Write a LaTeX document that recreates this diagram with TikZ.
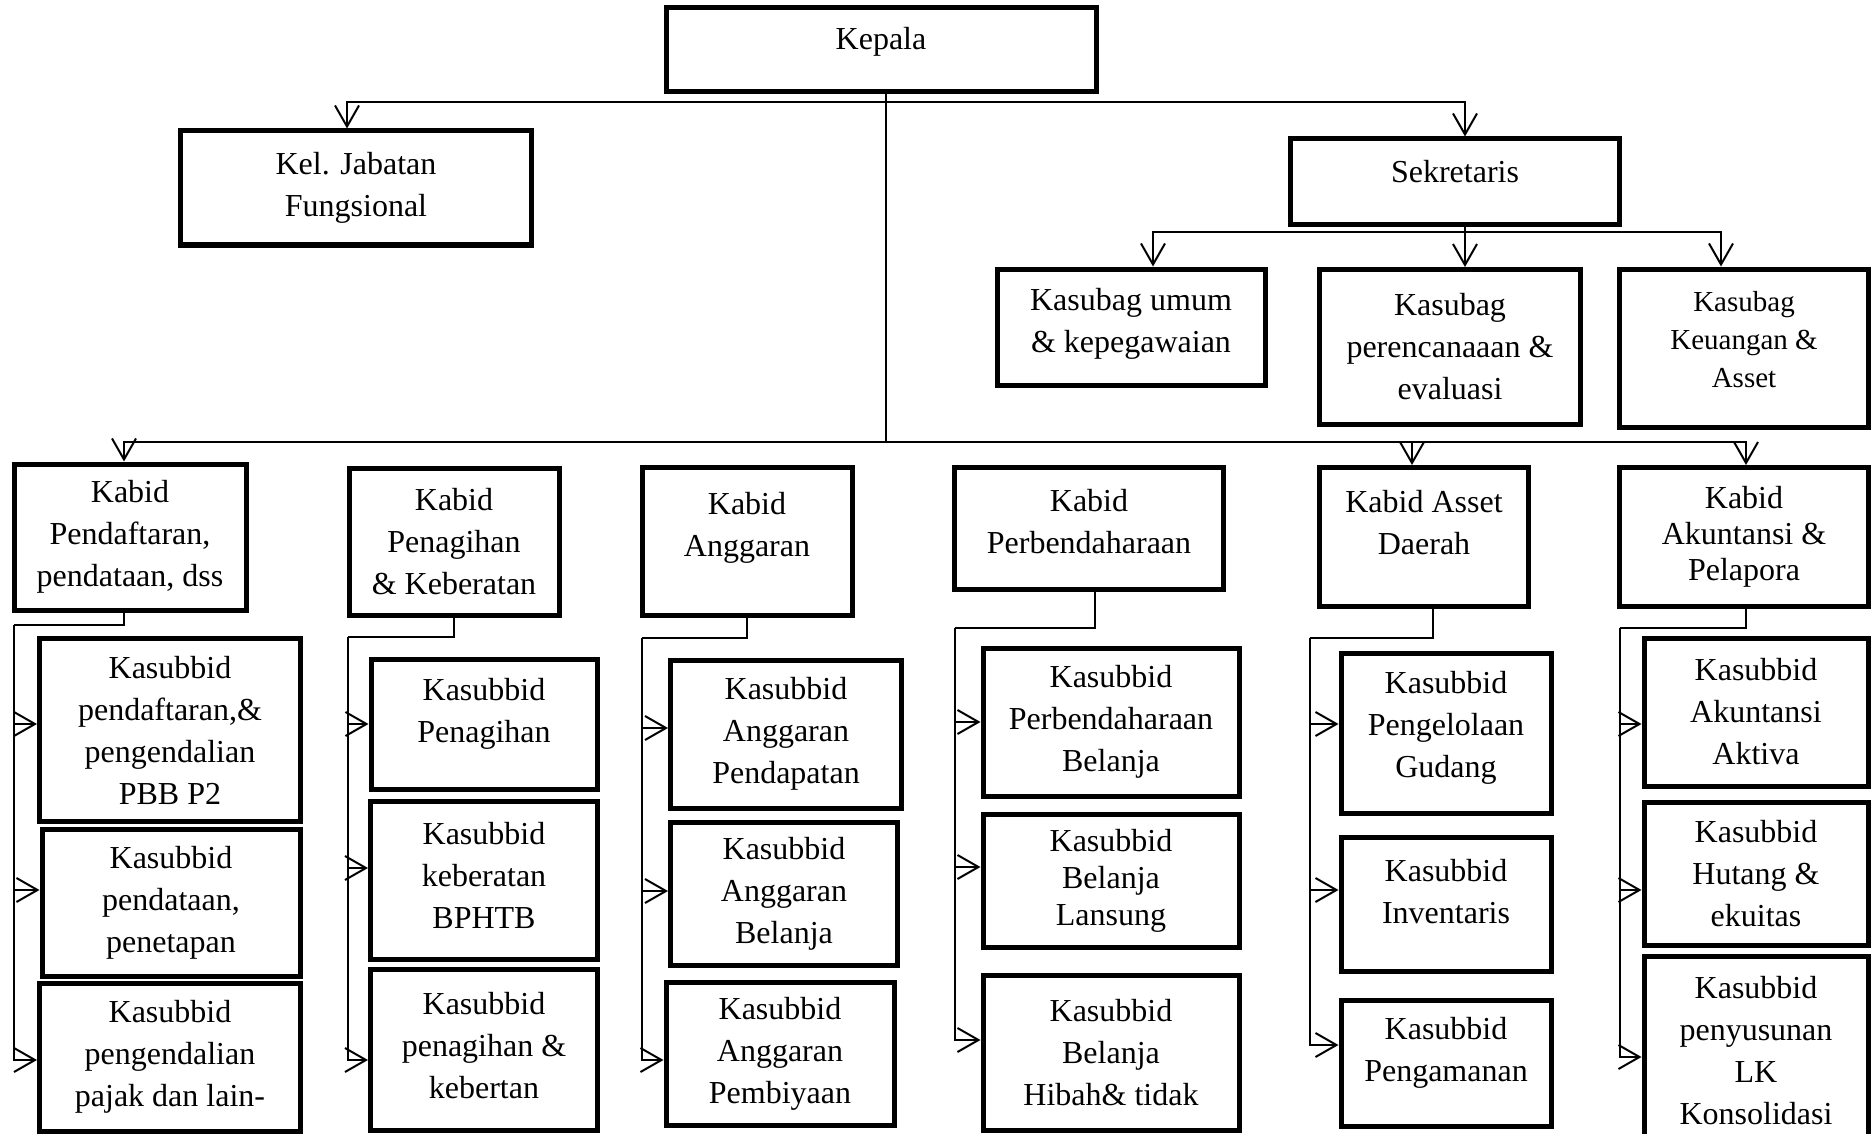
\documentclass[tikz,border=0pt]{standalone}
\usepackage{fontspec}
\setmainfont{Liberation Serif}
\usetikzlibrary{arrows.meta,positioning}

\begin{document}
\begin{tikzpicture}[
  x=1pt, y=-1pt,
  box/.style={draw, line width=5pt, inner sep=0pt, align=center, font=\fontsize{32}{42}\selectfont},
  dims/.style 2 args={minimum width=#1pt, minimum height=#2pt},
  lift/.style={text depth=#1},
  link/.style={line width=2pt},
  arr/.style={-{Straight Barb[length=21pt,width=24pt]}, line width=2pt}
]
  \useasboundingbox (0,0) rectangle (1874,1134);

  % top level
  \node[box, dims={430}{84}, lift=24pt] (kepala) at (881,50) {Kepala};
  \node[box, dims={351}{114}] (kel) at (356,188) {Kel. Jabatan\\Fungsional};
  \node[box, dims={329}{86}, lift=22pt] (sek) at (1455,182) {Sekretaris};

  % sekretariat
  \node[box, dims={268}{116}, lift=14pt] (umum) at (1131,327) {Kasubag umum\\\& kepegawaian};
  \node[box, dims={261}{155}] (renc) at (1450,347) {Kasubag\\perencanaaan \&\\evaluasi};
  \node[box, dims={249}{158}, lift=17pt, font=\fontsize{29}{38}\selectfont] (keu) at (1744,348) {Kasubag\\Keuangan \&\\Asset};

  % bidang
  \node[box, dims={232}{146}] (kb1) at (130,537) {Kabid\\Pendaftaran,\\pendataan, dss};
  \node[box, dims={210}{147}] (kb2) at (454,542) {Kabid\\Penagihan\\\& Keberatan};
  \node[box, dims={210}{148}, lift=34pt] (kb3) at (747,541) {Kabid\\Anggaran};
  \node[box, dims={269}{122}, lift=13pt] (kb4) at (1089,528) {Kabid\\Perbendaharaan};
  \node[box, dims={209}{139}, lift=30pt] (kb5) at (1424,537) {Kabid Asset\\Daerah};
  \node[box, dims={249}{139}, font=\fontsize{32}{36}\selectfont] (kb6) at (1744,537) {Kabid\\Akuntansi \&\\Pelapora};

  % sub bidang
  \node[box, dims={261}{183}] (s1a) at (170,730) {Kasubbid\\pendaftaran,\&\\pengendalian\\PBB P2};
  \node[box, dims={258}{147}] (s1b) at (171,903) {Kasubbid\\pendataan,\\penetapan};
  \node[box, dims={261}{148}] (s1c) at (170,1057) {Kasubbid\\pengendalian\\pajak dan lain-};

  \node[box, dims={226}{130}, lift=27pt] (s2a) at (484,724) {Kasubbid\\Penagihan};
  \node[box, dims={227}{158}, lift=10pt] (s2b) at (484,880) {Kasubbid\\keberatan\\BPHTB};
  \node[box, dims={227}{161}, lift=10pt] (s2c) at (484,1050) {Kasubbid\\penagihan \&\\kebertan};

  \node[box, dims={231}{148}] (s3a) at (786,734) {Kasubbid\\Anggaran\\Pendapatan};
  \node[box, dims={227}{143}] (s3b) at (784,894) {Kasubbid\\Anggaran\\Belanja};
  \node[box, dims={228}{143}] (s3c) at (780,1054) {Kasubbid\\Anggaran\\Pembiyaan};

  \node[box, dims={256}{148}] (s4a) at (1111,722) {Kasubbid\\Perbendaharaan\\Belanja};
  \node[box, dims={256}{133}, font=\fontsize{32}{37}\selectfont] (s4b) at (1111,881) {Kasubbid\\Belanja\\Lansung};
  \node[box, dims={256}{155}] (s4c) at (1111,1053) {Kasubbid\\Belanja\\Hibah\& tidak};

  \node[box, dims={210}{160}, lift=17pt] (s5a) at (1446,733) {Kasubbid\\Pengelolaan\\Gudang};
  \node[box, dims={210}{134}, lift=25pt] (s5b) at (1446,904) {Kasubbid\\Inventaris};
  \node[box, dims={210}{126}, lift=27pt] (s5c) at (1446,1063) {Kasubbid\\Pengamanan};

  \node[box, dims={224}{148}] (s6a) at (1756,712) {Kasubbid\\Akuntansi\\Aktiva};
  \node[box, dims={224}{143}] (s6b) at (1756,874) {Kasubbid\\Hutang \&\\ekuitas};
  \node[box, dims={224}{190}] (s6c) at (1756,1051) {Kasubbid\\penyusunan\\LK\\Konsolidasi};

  % buses
  \coordinate (topbus) at (0,102);
  \coordinate (sekbus) at (0,232);
  \coordinate (midbus) at (0,442);
  \coordinate (t1) at (14,625);
  \coordinate (t2) at (348,637);
  \coordinate (t3) at (642,638);
  \coordinate (t4) at (955,628);
  \coordinate (t5) at (1310,638);
  \coordinate (t6) at (1620,628);
  \coordinate (kp) at ([xshift=5pt]kepala.south);
  \coordinate (sk) at ([xshift=10pt]sek.south);

  \draw[link] (kp) -- (kp |- midbus);
  \draw[arr] (kp |- topbus) -| ([xshift=-9pt]kel.north);
  \draw[arr] (kp |- topbus) -| ([xshift=10pt]sek.north);
  \foreach \k/\dx in {kb1/-6,kb5/-12,kb6/2}
    \draw[arr] (kp |- midbus) -| ([xshift=\dx pt]\k.north);

  \draw[link] (sk) -- (sk |- sekbus);
  \foreach \k/\dx in {umum/22,renc/15,keu/-23}
    \draw[arr] (sk |- sekbus) -| ([xshift=\dx pt]\k.north);

  % bidang to sub bidang
  \foreach \n/\dx in {1/-6,2/0,3/0,4/6,5/9,6/2}
    \draw[link] ([xshift=\dx pt]kb\n.south) |- (t\n);
  \foreach \s/\dy in {a/6,b/13,c/-3}
    \draw[arr] (t1) |- ([yshift=\dy pt]s1\s.west);
  \foreach \s/\dy in {a/0,b/12,c/-10}
    \draw[arr] (t2) |- ([yshift=\dy pt]s2\s.west);
  \foreach \s/\dy in {a/6,b/3,c/-6}
    \draw[arr] (t3) |- ([yshift=\dy pt]s3\s.west);
  \foreach \s/\dy in {a/0,b/14,c/13}
    \draw[arr] (t4) |- ([yshift=\dy pt]s4\s.west);
  \foreach \s/\dy in {a/9,b/14,c/18}
    \draw[arr] (t5) |- ([yshift=\dy pt]s5\s.west);
  \foreach \s/\dy in {a/-12,b/-16,c/-6}
    \draw[arr] (t6) |- ([yshift=\dy pt]s6\s.west);
\end{tikzpicture}
\end{document}
